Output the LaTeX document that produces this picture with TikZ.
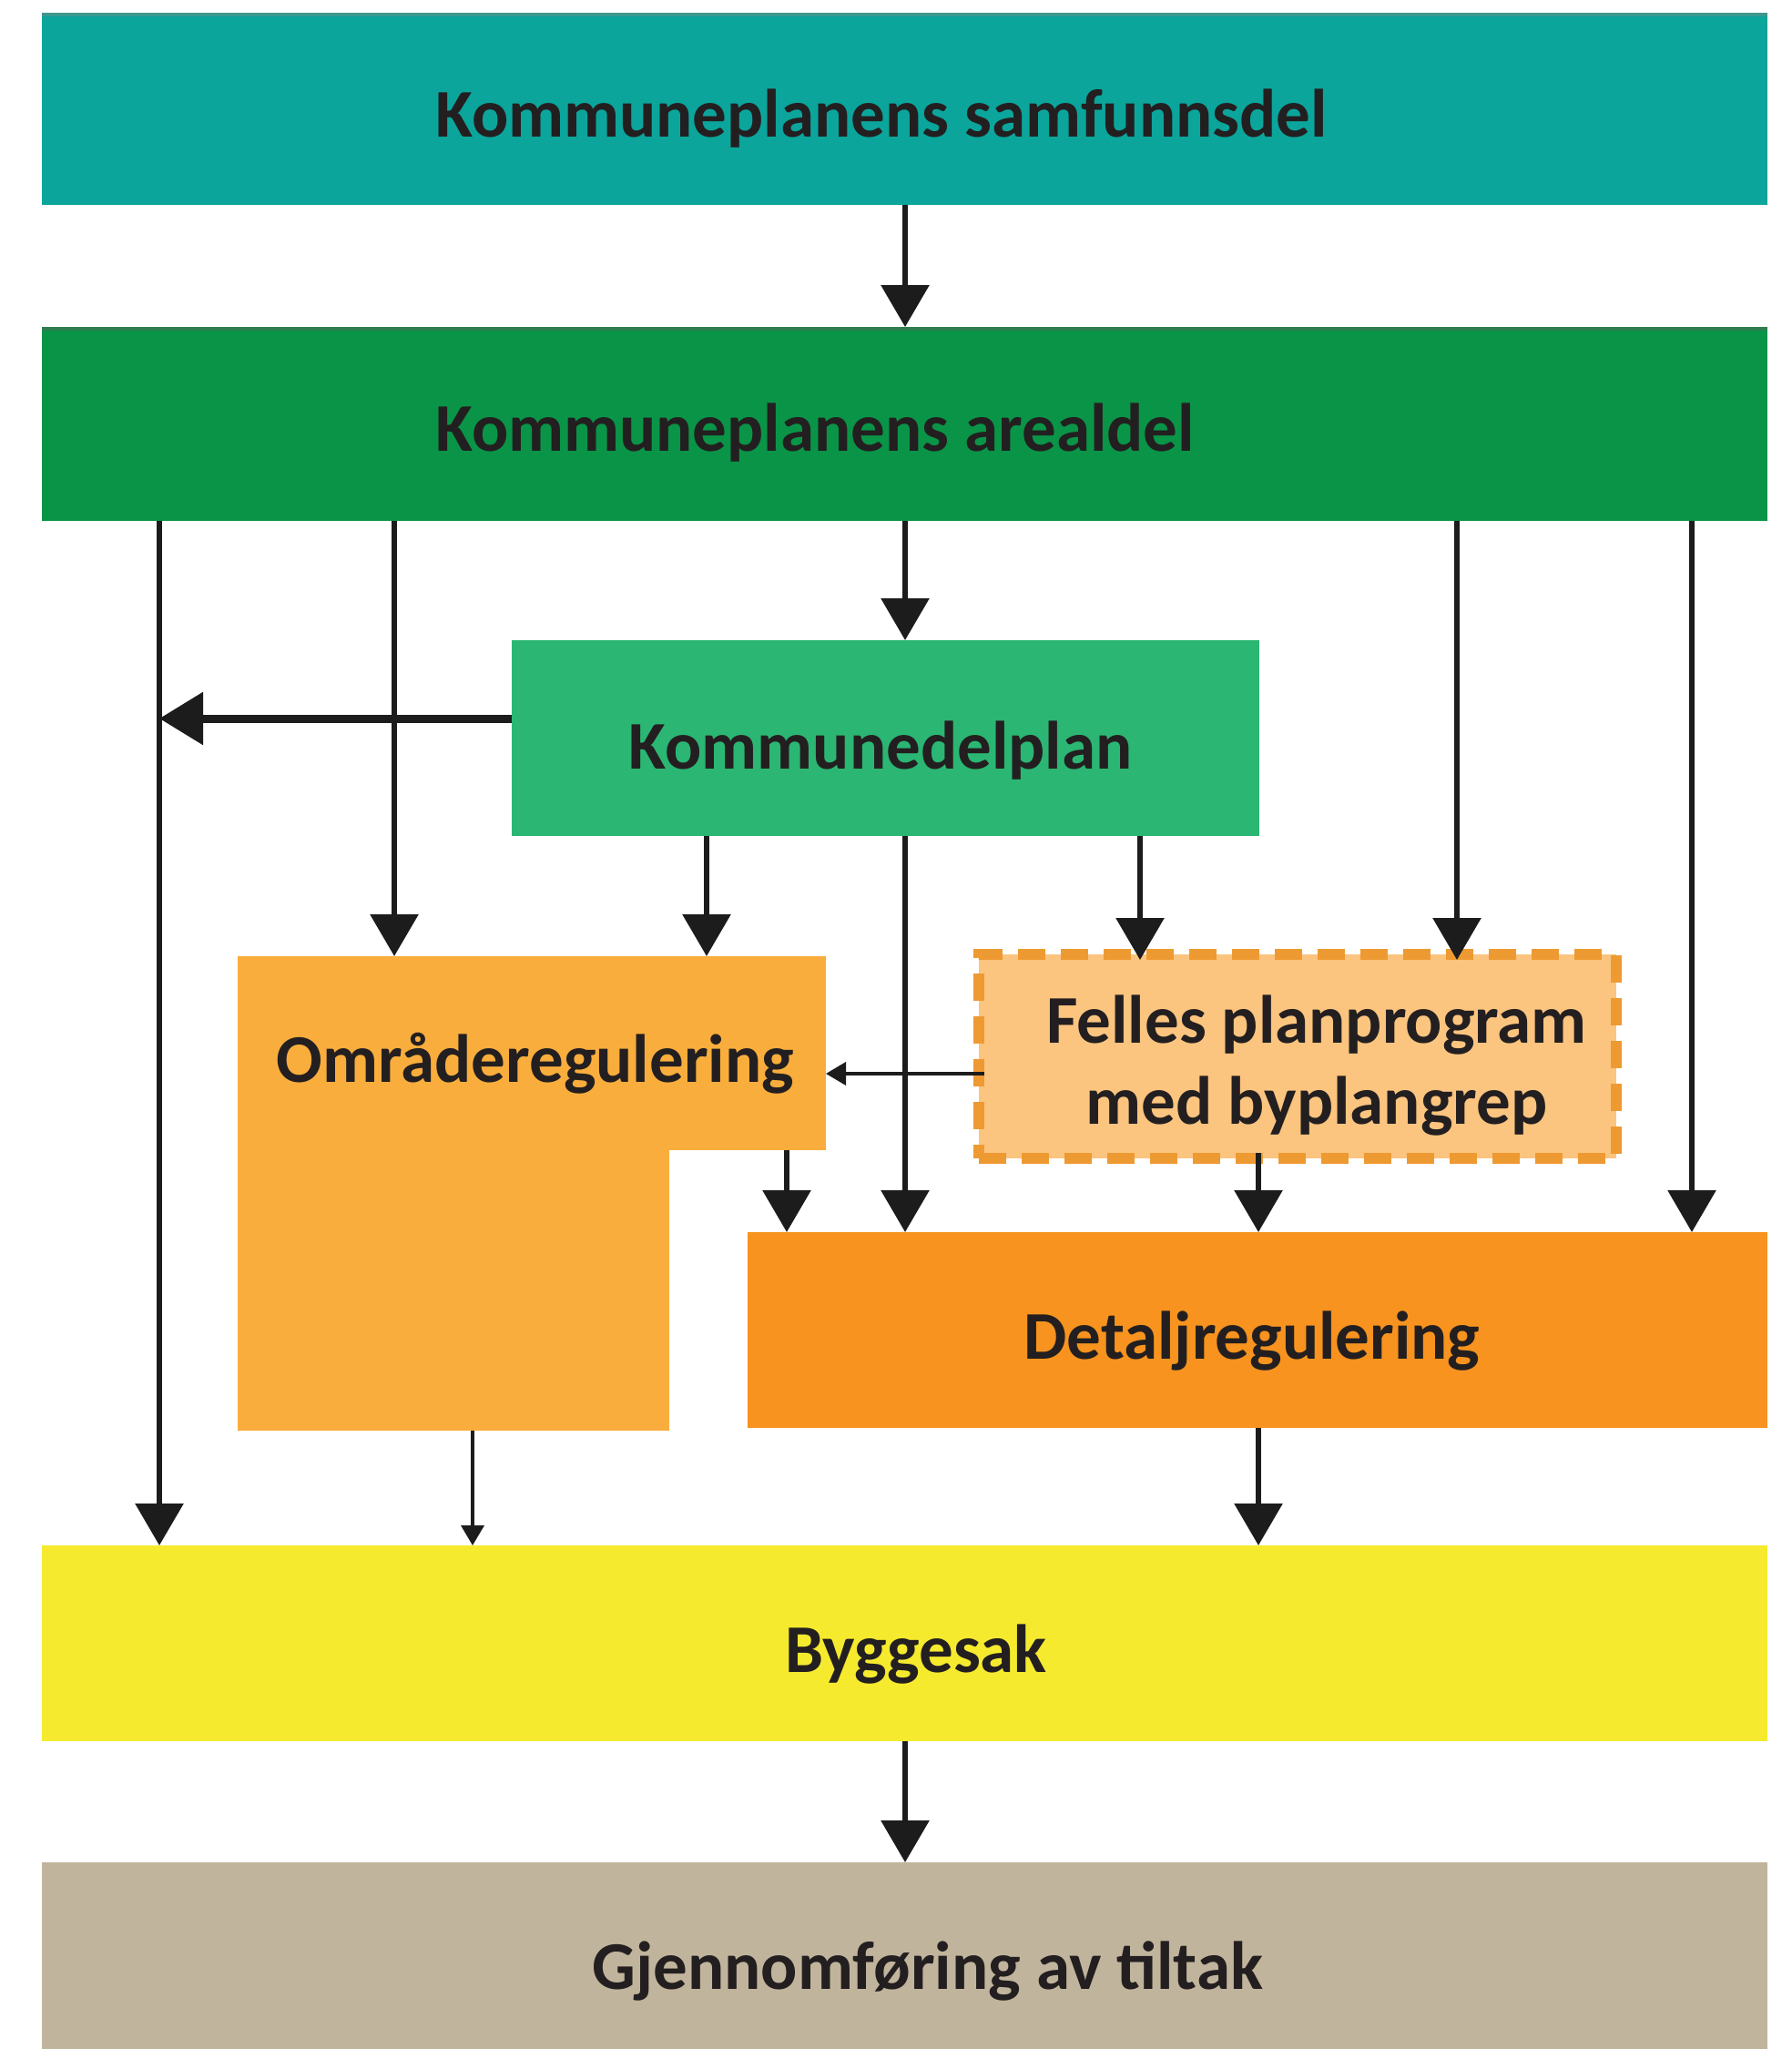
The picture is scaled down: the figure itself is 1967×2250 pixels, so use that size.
\documentclass[tikz,border=0pt]{standalone}
\usepackage{fontspec}
\setmainfont{Carlito}
\usetikzlibrary{arrows.meta}
\definecolor{cSamf}{HTML}{0BA59C}
\definecolor{cSamfTop}{HTML}{3E978F}
\definecolor{cAreal}{HTML}{0A9447}
\definecolor{cArealTop}{HTML}{2F7D50}
\definecolor{cKdp}{HTML}{2BB673}
\definecolor{cOmr}{HTML}{F9AD3C}
\definecolor{cFel}{HTML}{FBC47F}
\definecolor{cFelB}{HTML}{EE9A32}
\definecolor{cDet}{HTML}{F7931E}
\definecolor{cByg}{HTML}{F5EA2E}
\definecolor{cGje}{HTML}{C1B49C}
\definecolor{cTxt}{HTML}{231F20}
\definecolor{cLine}{HTML}{1C1C1C}
\tikzset{
  box/.style={draw=none, inner sep=0pt, outer sep=0pt},
  lbl/.style={inner sep=0pt, text=cTxt, font=\bfseries\fontsize{75}{88}\selectfont},
  arr/.style={draw=cLine, line width=6pt, -{Triangle[width=52pt,length=46pt]}},
  arrthick/.style={draw=cLine, line width=9pt, -{Triangle[width=56pt,length=48pt]}},
  arrthin/.style={draw=cLine, line width=3.5pt, -{Triangle[width=25pt,length=22pt]}},
}
\begin{document}
\begin{tikzpicture}[x=1pt,y=-1pt]
\useasboundingbox[fill=white] (0,0) rectangle (1967,2250);

% boxes
\node[box, fill=cSamf, minimum width=1895pt, minimum height=211pt] (samf) at (993.5,119.5) {};
\node[box, fill=cAreal, minimum width=1895pt, minimum height=213pt] (areal) at (993.5,465.5) {};
\node[box, fill=cKdp, minimum width=821pt, minimum height=215pt] (kdp) at (972.5,810.5) {};
\node[box, fill=cOmr, minimum width=646pt, minimum height=213pt] (omrTop) at (584,1156.5) {};
\node[box, fill=cOmr, minimum width=474pt, minimum height=309pt] (omrLow) at (498,1416.5) {};
\node[box, fill=cFel, draw=cFelB, dash pattern=on 30pt off 17pt, line width=12pt, minimum width=700pt, minimum height=224pt] (felles) at (1424.5,1160) {};
\node[box, fill=cDet, minimum width=1120pt, minimum height=215pt] (detalj) at (1381,1460.5) {};
\node[box, fill=cByg, minimum width=1895pt, minimum height=215pt] (bygg) at (993.5,1804.5) {};
\node[box, fill=cGje, minimum width=1895pt, minimum height=210pt] (gjen) at (993.5,2150) {};

% darker top edges
\draw[cSamfTop, line width=4pt] (samf.north west) ++(0,2) -- ([yshift=-2pt]samf.north east);
\draw[cArealTop, line width=4pt] (areal.north west) ++(0,2) -- ([yshift=-2pt]areal.north east);

% labels
\node[lbl, anchor=base west] (samf-t) at (478,151) {Kommuneplanens samfunnsdel};
\node[lbl, anchor=base west] (areal-t) at (478,495) {Kommuneplanens arealdel};
\node[lbl, anchor=base] (kdp-t) at (967,844) {Kommunedelplan};
\node[lbl, anchor=base] (omr-t) at (588,1188) {Områderegulering};
\node[lbl, anchor=base] (fel-t1) at (1446,1145) {Felles planprogram};
\node[lbl, anchor=base] (fel-t2) at (1446,1234) {med byplangrep};
\node[lbl, anchor=base] (det-t) at (1375,1492) {Detaljregulering};
\node[lbl, anchor=base] (byg-t) at (1006,1836) {Byggesak};
\node[lbl, anchor=base] (gje-t) at (1019,2184) {Gjennomføring av tiltak};

% columns
\coordinate (cA) at (175,0);
\coordinate (cB) at (433,0);
\coordinate (cC) at (994,0);
\coordinate (cD) at (1600,0);
\coordinate (cE) at (1858,0);
\coordinate (cF) at (776,0);
\coordinate (cG) at (1252,0);
\coordinate (cH) at (864,0);
\coordinate (cI) at (1382,0);
\coordinate (cJ) at (519,0);
\coordinate (rK) at (0,789);
\coordinate (rF) at (0,1179);

% connectors
\draw[arr] (samf.south -| cC) -- (areal.north -| cC);
\draw[arr] (areal.south -| cA) -- (bygg.north -| cA);
\draw[arr] (areal.south -| cB) -- (omrTop.north -| cB);
\draw[arr] (areal.south -| cC) -- (kdp.north -| cC);
\draw[arr] (areal.south -| cD) -- ([yshift=-6pt]felles.north -| cD);
\draw[arr] (areal.south -| cE) -- (detalj.north -| cE);
\draw[arrthick] (kdp.west |- rK) -- (cA |- rK);
\draw[arr] (kdp.south -| cF) -- (omrTop.north -| cF);
\draw[arr] (kdp.south -| cC) -- (detalj.north -| cC);
\draw[arr] (kdp.south -| cG) -- ([yshift=-6pt]felles.north -| cG);
\draw[arrthin] ([xshift=6pt]felles.west |- rF) -- (omrTop.east |- rF);
\draw[arr] (omrTop.south -| cH) -- (detalj.north -| cH);
\draw[arr] ([yshift=6pt]felles.south -| cI) -- (detalj.north -| cI);
\draw[arrthin] (omrLow.south -| cJ) -- (bygg.north -| cJ);
\draw[arr] (detalj.south -| cI) -- (bygg.north -| cI);
\draw[arr] (bygg.south -| cC) -- (gjen.north -| cC);
\end{tikzpicture}
\end{document}
